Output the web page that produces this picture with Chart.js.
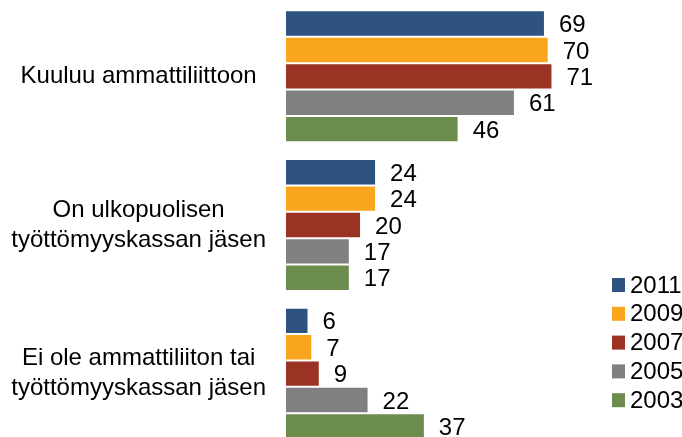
<!DOCTYPE html>
<html>
<head>
<meta charset="utf-8">
<script src="https://cdn.jsdelivr.net/npm/chart.js@4"></script>
<style>
  html, body { margin: 0; padding: 0; background: #fff; overflow: hidden; }
  #wrap { width: 682px; height: 437px; overflow: hidden; }
  canvas { display: block; }
</style>
</head>
<body>
<div id="wrap"><canvas id="chart" width="682" height="448"></canvas></div>
<script>
// categories (multi-line labels)
var categories = [
    ['Kuuluu ammattiliittoon'],
    ['On ulkopuolisen', 'työttömyyskassan jäsen'],
    ['Ei ole ammattiliiton tai', 'työttömyyskassan jäsen']
];
var years = ['2011', '2009', '2007', '2005', '2003'];
var v2011 = [69, 24, 6];
var v2009 = [70, 24, 7];
var v2007 = [71, 20, 9];
var v2005 = [61, 17, 22];
var v2003 = [46, 17, 37];
var colors = ['#2E5380', '#F9A51E', '#9A3324', '#808080', '#6B8C4C'];

var FONT = "'Liberation Sans', Arial, sans-serif";
var series = [v2011, v2009, v2007, v2005, v2003];

var datasets = series.map(function (vals, i) {
    return {
        label: years[i],
        data: vals,
        backgroundColor: colors[i],
        borderColor: 'rgba(255,255,255,0.25)',
        borderWidth: 1,
        categoryPercentage: 0.888,
        barPercentage: 1
    };
});

// value labels next to bar ends
var valueLabels = {
    id: 'valueLabels',
    afterDatasetsDraw: function (chart) {
        var ctx = chart.ctx;
        ctx.save();
        ctx.font = '24px ' + FONT;
        ctx.fillStyle = '#000';
        ctx.textAlign = 'left';
        ctx.textBaseline = 'middle';
        chart.data.datasets.forEach(function (ds, i) {
            chart.getDatasetMeta(i).data.forEach(function (bar, j) {
                ctx.fillText(ds.data[j], bar.x + 14, bar.y + 2);
            });
        });
        ctx.restore();
    }
};

// legend at bottom right
var sideLegend = {
    id: 'sideLegend',
    afterDraw: function (chart) {
        var ctx = chart.ctx;
        ctx.save();
        ctx.font = '24px ' + FONT;
        ctx.textAlign = 'left';
        ctx.textBaseline = 'middle';
        chart.data.datasets.forEach(function (ds, i) {
            var y = 285 + i * 28.8;
            ctx.fillStyle = ds.backgroundColor;
            ctx.fillRect(612, y - 7, 13, 14);
            ctx.fillStyle = '#000';
            ctx.fillText(ds.label, 630, y + 1);
        });
        ctx.restore();
    }
};

var chart = new Chart(document.getElementById('chart').getContext('2d'), {
    type: 'bar',
    data: {
        labels: categories,
        datasets: datasets
    },
    options: {
        indexAxis: 'y',
        responsive: false,
        animation: false,
        devicePixelRatio: 1,
        layout: { padding: { top: 2, right: 77, left: 0, bottom: 0 } },
        plugins: {
            legend: { display: false },
            tooltip: { enabled: false }
        },
        scales: {
            x: {
                display: false,
                min: 0,
                max: 85
            },
            y: {
                grid: { display: false },
                border: { display: false },
                ticks: {
                    color: '#000',
                    padding: 12,
                    crossAlign: 'center',
                    font: { family: FONT, size: 24, lineHeight: 1.25 }
                },
                afterFit: function (scale) {
                    scale.width = 286;
                    scale.paddingTop = 0;
                    scale.paddingBottom = 0;
                }
            }
        }
    },
    plugins: [valueLabels, sideLegend]
});
</script>
</body>
</html>
